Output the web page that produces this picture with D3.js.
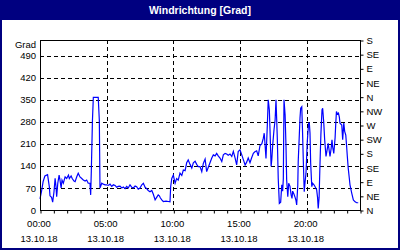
<!DOCTYPE html>
<html>
<head>
<meta charset="utf-8">
<script src="https://d3js.org/d3.v7.min.js"></script>
<style>
  body { margin: 0; background: #fff; }
  svg { display: block; }
</style>
</head>
<body>
<div id="chart"></div>
<script>
// wind direction, 13.10.18 -- minutes after midnight / degrees
const minutes = [
  0, 7, 14, 22, 34, 42, 45, 52, 57, 63,
  68, 72, 75, 80, 86, 90, 95, 99, 105, 113,
  120, 128, 132, 140, 145, 153, 158, 165, 172, 180,
  188, 195, 203, 210, 217, 225, 228, 231, 236, 240,
  262, 267, 270,
  278, 285, 293, 300, 307, 315, 323, 330, 338, 345,
  352, 360, 368, 375, 383, 390, 397, 405, 413, 420,
  428, 435, 442, 450, 458, 465, 473, 480, 487, 495,
  503, 510, 518, 525, 532, 537, 542, 548, 555, 567,
  577, 585,
  588, 593, 600, 608, 615, 622, 630, 638, 645, 653,
  660, 667, 675, 683, 690, 698, 705, 712, 720, 728,
  735, 743, 750, 757, 765, 773, 780, 788, 795, 802,
  810, 818, 825, 833, 840, 847, 855, 863, 870, 878,
  885, 892, 900, 908, 915, 923, 930, 937, 945,
  952, 960, 967, 975, 982, 990, 998, 1005, 1009, 1013,
  1017, 1023, 1027, 1032, 1035, 1040, 1043, 1047, 1053, 1058,
  1062, 1065, 1068, 1072, 1077, 1083, 1088, 1092, 1095, 1098,
  1103, 1107, 1110, 1115, 1119, 1125, 1130, 1134, 1137, 1143,
  1148, 1152, 1155, 1160, 1162, 1167, 1170, 1173, 1178, 1181,
  1185, 1189, 1193, 1197, 1200, 1203, 1206, 1209, 1212, 1215,
  1218, 1223, 1227, 1233, 1238, 1245, 1249, 1252, 1256, 1260,
  1264, 1269, 1272, 1277, 1281, 1287, 1293, 1297, 1302, 1305,
  1310, 1314, 1317, 1322, 1328, 1331, 1334, 1338, 1343, 1347,
  1350, 1358, 1362, 1367, 1371, 1376, 1380, 1383, 1387, 1392,
  1395, 1403, 1410, 1418, 1425, 1432
];
const grad = [
  35, 60, 90, 108, 112, 74, 45, 40, 25, 58,
  101, 74, 42, 85, 111, 95, 70, 95, 85, 105,
  100, 111, 100, 108, 100, 92, 90, 105, 117, 105,
  100, 95, 92, 95, 85, 85, 48, 125, 284, 358,
  358, 284, 70,
  85, 82, 80, 80, 78, 82, 75, 80, 78, 72,
  75, 76, 70, 73, 68, 75, 70, 80, 72, 70,
  76, 74, 66, 70, 80, 85, 72, 68, 62, 58,
  62, 50, 32, 40, 48, 45, 38, 32, 27, 28,
  27, 26,
  74, 100, 111, 85, 100, 95, 117, 110, 127, 125,
  150, 159, 145, 133, 150, 155, 145, 138, 138, 122,
  148, 162, 122, 135, 150, 165, 175, 172, 180, 172,
  165, 154, 175, 180, 178, 174, 178, 170, 186, 165,
  143, 186, 191, 175, 160, 143, 152, 165, 150,
  165, 180, 185, 188, 172, 205, 210, 228, 244, 205,
  164, 270, 350, 318, 255, 138, 160, 205, 255, 286,
  350, 290, 225, 101, 21, 25, 80, 60, 100, 350,
  302, 202, 95, 42, 85, 75, 48, 37, 60, 50,
  40, 30, 16, 79, 155, 240, 292, 323, 328, 260,
  155, 58, 90, 117, 170, 220, 250, 276, 276, 244,
  149, 74, 85, 80, 74, 64, 40, 5, 40, 148,
  240, 318, 323, 276, 223, 170, 195, 212, 185, 170,
  195, 223, 200, 180, 230, 276, 313, 305, 308, 295,
  276, 270, 223, 276, 250, 238, 200, 170, 133, 100,
  80, 53, 32, 26, 23, 23
];

const gradTicks = [0, 70, 140, 210, 280, 350, 420, 490];
const compass = ['N', 'NE', 'E', 'SE', 'S', 'SW', 'W', 'NW', 'N', 'NE', 'E', 'SE', 'S'];
const hourLabels = ['00:00', '05:00', '10:00', '15:00', '20:00'];
const dateLabel = '13.10.18';
const title = 'Windrichtung [Grad]';

const W = 400, H = 250;
const margin = { t: 40, r: 40, b: 40, l: 40 };
const navy = '#000080';
const font = 'Liberation Sans, Arial, sans-serif';

const data = minutes.map((m, i) => ({ m: m, v: grad[i] }));

const x = d3.scaleLinear().domain([0, 1440]).range([margin.l, W - margin.r]);
const y = d3.scaleLinear().domain([0, 540]).range([H - margin.b, margin.t]);

const svg = d3.select('#chart').append('svg')
  .attr('width', W)
  .attr('height', H);

svg.append('rect')
  .attr('width', W).attr('height', H)
  .attr('fill', '#fff');

// title bar
svg.append('rect')
  .attr('x', 0).attr('y', 0)
  .attr('width', W).attr('height', 20)
  .attr('fill', navy);
svg.append('text')
  .attr('x', W / 2).attr('y', 14)
  .attr('text-anchor', 'middle')
  .style('font-family', font)
  .style('font-size', '10.5px')
  .style('font-weight', 'bold')
  .attr('fill', '#fff')
  .text(title);

// outer frame
svg.append('rect')
  .attr('x', 1).attr('y', 1)
  .attr('width', W - 2).attr('height', H - 2)
  .attr('fill', 'none')
  .attr('stroke', navy)
  .attr('stroke-width', 2);

const plot = svg.append('g');

// grid
plot.selectAll('.hgrid')
  .data(gradTicks.filter(d => d > 0))
  .enter().append('line')
  .attr('x1', x(0)).attr('x2', x(1440))
  .attr('y1', d => Math.round(y(d)) + 0.5)
  .attr('y2', d => Math.round(y(d)) + 0.5)
  .attr('stroke', '#000')
  .attr('stroke-dasharray', '4,3');

plot.selectAll('.vgrid')
  .data([300, 600, 900, 1200])
  .enter().append('line')
  .attr('x1', d => Math.round(x(d)) + 0.5)
  .attr('x2', d => Math.round(x(d)) + 0.5)
  .attr('y1', y(540)).attr('y2', y(0))
  .attr('stroke', '#000')
  .attr('stroke-dasharray', '4,3');

// wind direction line
const line = d3.line()
  .x(d => x(d.m))
  .y(d => y(d.v));

plot.append('path')
  .datum(data)
  .attr('d', line)
  .attr('fill', 'none')
  .attr('stroke', '#0000ff')
  .attr('stroke-width', 1.2)
  .attr('stroke-linejoin', 'miter');

// plot border
plot.append('rect')
  .attr('x', x(0) + 0.5).attr('y', y(540) + 0.5)
  .attr('width', x(1440) - x(0)).attr('height', y(0) - y(540))
  .attr('fill', 'none')
  .attr('stroke', '#000');

// x axis, hourly ticks
const axisX = d3.axisBottom(x)
  .tickValues(d3.range(0, 1441, 60))
  .tickSize(3)
  .tickFormat('');
plot.append('g')
  .attr('transform', `translate(0.5, ${y(0) + 0.5})`)
  .call(axisX)
  .call(g => g.select('.domain').remove());

const xl = plot.append('g')
  .style('font-family', font)
  .style('font-size', '9.5px')
  .attr('fill', '#000')
  .attr('text-anchor', 'middle');
xl.selectAll('.hr')
  .data(hourLabels)
  .enter().append('text')
  .attr('x', (d, i) => x(i * 300) - 1)
  .attr('y', 227)
  .text(d => d);
xl.selectAll('.dt')
  .data(hourLabels)
  .enter().append('text')
  .attr('x', (d, i) => x(i * 300) - 1)
  .attr('y', 242)
  .text(dateLabel);

// left axis
const axisY = d3.axisLeft(y)
  .tickValues(gradTicks)
  .tickSize(0)
  .tickPadding(4);
plot.append('g')
  .attr('transform', `translate(${x(0)}, 0)`)
  .call(axisY)
  .call(g => g.select('.domain').remove())
  .selectAll('text')
  .style('font-family', font)
  .style('font-size', '9.5px')
  .attr('fill', '#000');

plot.append('text')
  .attr('x', 36).attr('y', 47.5)
  .attr('text-anchor', 'end')
  .style('font-family', font)
  .style('font-size', '9.5px')
  .text('Grad');

// right axis, compass
const axisR = d3.axisRight(y)
  .tickValues(d3.range(0, 541, 45))
  .tickSize(3)
  .tickPadding(3)
  .tickFormat((d, i) => compass[i]);
plot.append('g')
  .attr('transform', `translate(${x(1440) + 0.5}, 0.5)`)
  .call(axisR)
  .call(g => g.select('.domain').remove())
  .selectAll('text')
  .style('font-family', font)
  .style('font-size', '9.5px')
  .attr('fill', '#000');
</script>
</body>
</html>
